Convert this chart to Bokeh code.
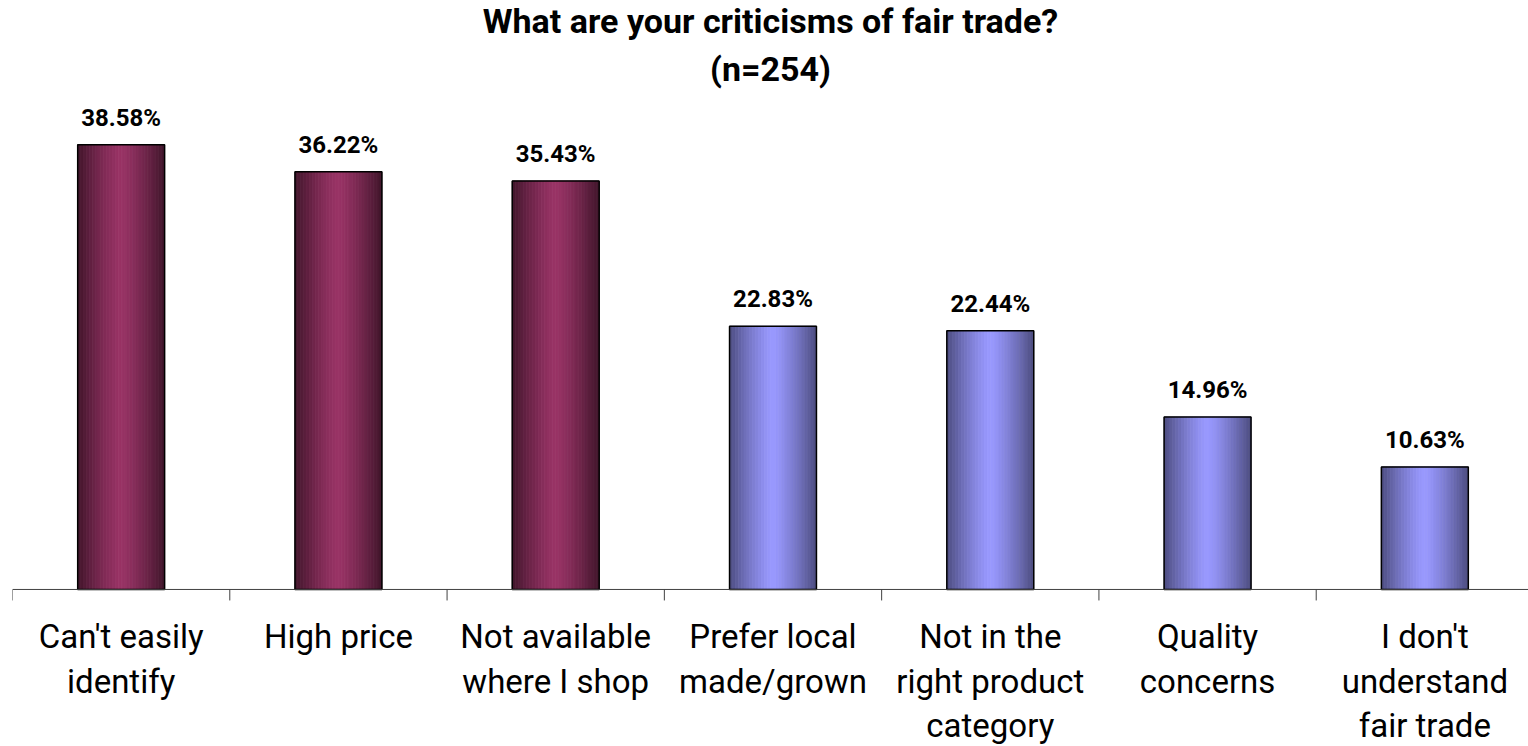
import math
from bokeh.plotting import figure
from bokeh.models import Range1d, Label, Span
from bokeh.embed import file_html
from bokeh.resources import INLINE
from bokeh.core.properties import value

# ---- data ----
categories = ["Can't easily\nidentify", "High price", "Not available\nwhere I shop",
              "Prefer local\nmade/grown", "Not in the\nright product\ncategory",
              "Quality\nconcerns", "I don't\nunderstand\nfair trade"]
percent = [38.58, 36.22, 35.43, 22.83, 22.44, 14.96, 10.63]
group = ["top", "top", "top", "other", "other", "other", "other"]
title_text = "What are your criticisms of fair trade?\n(n=254)"

# ---- style ----
palette = {"top": ((153, 51, 102), 0.42), "other": ((153, 153, 255), 0.5)}
BAR_W = 0.40
N_STRIPS = 30
FONT = "Roboto"
AXIS_COLOR = "#404040"

positions = [i + 1 for i in range(len(categories))]
boundaries = [pp - 0.5 for pp in positions] + [positions[-1] + 0.5]
x_start = 0.5
x_end = 0.5 + 6.977
y_end = 51.08
y_start = -13.62

p = figure(width=1528, height=746, x_range=Range1d(x_start, x_end), y_range=Range1d(y_start, y_end),
           output_backend="svg", toolbar_location=None,
           x_axis_location=None, y_axis_location=None,
           min_border_left=12, min_border_right=0, min_border_top=0, min_border_bottom=0)
p.outline_line_color = None
p.xgrid.visible = False
p.ygrid.visible = False
p.background_fill_color = "white"


def mix(c1, c2, f):
    return "#%02x%02x%02x" % tuple(int(round(a + (b - a) * f)) for a, b in zip(c1, c2))


xs, tops, cols = [], [], []
for pos, pct, grp in zip(positions, percent, group):
    light, k_dark = palette[grp]
    dark = tuple(c * k_dark for c in light)
    for k in range(N_STRIPS):
        t = (k + 0.5) / N_STRIPS
        f = 1 - abs(2 * t - 1) ** 1.3
        xs.append(pos - BAR_W / 2 + t * BAR_W)
        tops.append(pct)
        cols.append(mix(dark, light, f))

p.vbar(x=xs, top=tops, bottom=0, width=BAR_W / N_STRIPS, fill_color=cols,
       line_color=cols, line_width=0.8)
p.vbar(x=positions, top=percent, bottom=0, width=BAR_W, fill_color=None,
       line_color="black", line_width=1.5)

# value labels
p.text(x=positions, y=percent, text=["%.2f%%" % v for v in percent],
       text_align="center", text_baseline="alphabetic", y_offset=-27,
       text_font=value(FONT), text_font_style="bold", text_font_size="24px", text_color="black")

# category axis: baseline, boundary ticks and labels
p.add_layout(Span(location=0, dimension="width", line_color=AXIS_COLOR, line_width=1))
p.ray(x=boundaries, y=[0] * len(boundaries), length=11, length_units="screen",
      angle=-math.pi / 2, line_color=AXIS_COLOR, line_width=1)
p.text(x=positions, y=[0] * len(positions), text=categories, text_align="center",
       text_baseline="top", y_offset=28, text_font=value(FONT), text_font_size="33px",
       text_color="black", text_line_height=1.14)

title = Label(x=(x_start + x_end) / 2, y=y_end, text=title_text, text_align="center",
              text_baseline="top", y_offset=0, text_font=FONT, text_font_style="bold",
              text_font_size="34px", text_color="black", text_line_height=1.2)
p.add_layout(title)

open("out.html", "w").write(file_html(p, INLINE))
